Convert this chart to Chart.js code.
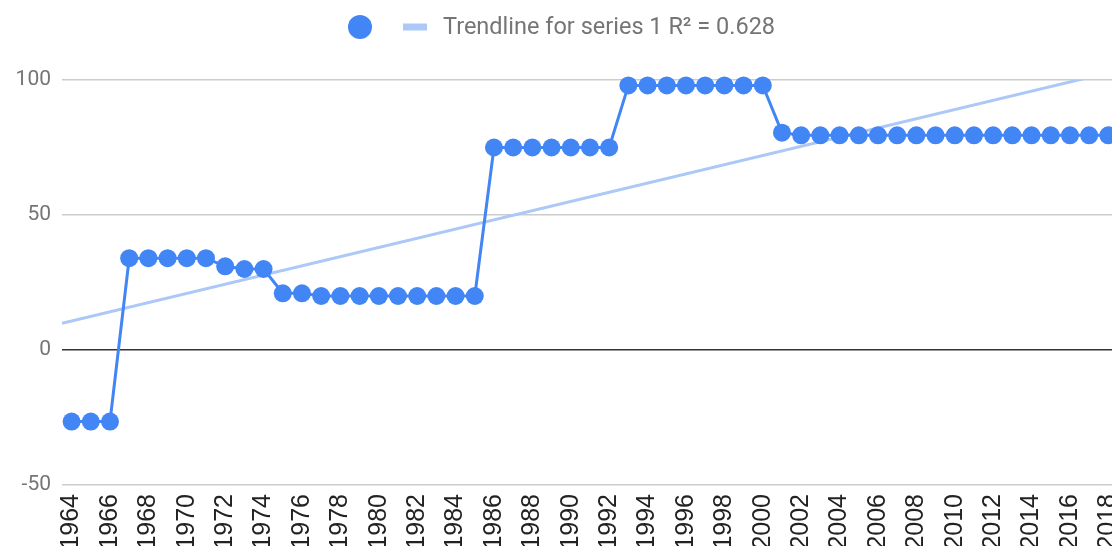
<!DOCTYPE html>
<html>
<head>
<meta charset="utf-8">
<script src="https://cdn.jsdelivr.net/npm/chart.js@4"></script>
<style>
    html, body { margin: 0; padding: 0; background: #ffffff; overflow: hidden; }
    #wrap { width: 1112px; height: 546px; position: relative; }
    canvas { display: block; }
</style>
</head>
<body>
<div id="wrap"><canvas id="chart" width="1112" height="546"></canvas></div>
<script>
// --- dados ---
const anos = [
    1964, 1965, 1966, 1967, 1968, 1969, 1970, 1971, 1972, 1973,
    1974, 1975, 1976, 1977, 1978, 1979, 1980, 1981, 1982, 1983,
    1984, 1985, 1986, 1987, 1988, 1989, 1990, 1991, 1992, 1993,
    1994, 1995, 1996, 1997, 1998, 1999, 2000, 2001, 2002, 2003,
    2004, 2005, 2006, 2007, 2008, 2009, 2010, 2011, 2012, 2013,
    2014, 2015, 2016, 2017, 2018
];
const valores = [
    -26.5, -26.5, -26.5, 34, 34, 34, 34, 34, 31, 30,
    30, 21, 21, 20, 20, 20, 20, 20, 20, 20,
    20, 20, 75, 75, 75, 75, 75, 75, 75, 98,
    98, 98, 98, 98, 98, 98, 98, 80.5, 79.5, 79.5,
    79.5, 79.5, 79.5, 79.5, 79.5, 79.5, 79.5, 79.5, 79.5, 79.5,
    79.5, 79.5, 79.5, 79.5, 79.5
];
// linha de tendência (extremos)
const tendenciaX = [1963.5, 2018.19];
const tendenciaY = [9.9, 103.0];

const anosTicks = [
    1964, 1966, 1968, 1970, 1972, 1974, 1976, 1978, 1980, 1982,
    1984, 1986, 1988, 1990, 1992, 1994, 1996, 1998, 2000, 2002,
    2004, 2006, 2008, 2010, 2012, 2014, 2016, 2018
];
const valoresTicksY = [-50, 0, 50, 100];

const legendaTendencia = "Trendline for series 1 R² = 0.628";

const AZUL = "#4285F4";
const AZUL_CLARO = "#abc8f8";

// legenda no estilo do Google Charts
const legendaPlugin = {
    id: "legendaTopo",
    afterDraw(chart) {
        const ctx = chart.ctx;
        ctx.save();
        ctx.fillStyle = AZUL;
        ctx.beginPath();
        ctx.arc(360, 27, 12, 0, Math.PI * 2);
        ctx.fill();

        ctx.strokeStyle = AZUL_CLARO;
        ctx.lineWidth = 7;
        ctx.beginPath();
        ctx.moveTo(403, 27);
        ctx.lineTo(427, 27);
        ctx.stroke();

        ctx.font = "23.5px Roboto";
        ctx.fillStyle = "#757575";
        ctx.textBaseline = "middle";
        ctx.textAlign = "left";
        ctx.fillText(chart.data.datasets[1].label, 443, 28);
        ctx.restore();
    }
};

const ctx = document.getElementById("chart").getContext("2d");
const grafico = new Chart(ctx, {
    type: "line",
    data: {
        datasets: [
            {
                label: "",
                data: anos.map((a, i) => ({ x: a, y: valores[i] })),
                borderColor: AZUL,
                backgroundColor: AZUL,
                borderWidth: 3,
                pointRadius: 9,
                pointBorderWidth: 0,
                pointBackgroundColor: AZUL,
                tension: 0,
                clip: false
            },
            {
                label: legendaTendencia,
                data: tendenciaX.map((a, i) => ({ x: a, y: tendenciaY[i] })),
                borderColor: AZUL_CLARO,
                borderWidth: 3,
                pointRadius: 0,
                tension: 0
            }
        ]
    },
    options: {
        responsive: false,
        animation: false,
        devicePixelRatio: 1,
        layout: { autoPadding: false, padding: { top: 80, left: 0, right: 0, bottom: 0 } },
        plugins: {
            legend: { display: false },
            tooltip: { enabled: false }
        },
        scales: {
            x: {
                type: "linear",
                min: 1963.5,
                max: 2018.19,
                afterBuildTicks: (scale) => {
                    scale.ticks = anosTicks.map(v => ({ value: v }));
                },
                afterFit: (scale) => {
                    scale.height = 61;
                    scale.paddingLeft = 0;
                    scale.paddingRight = 0;
                },
                grid: { display: false, drawTicks: false },
                border: { display: false },
                ticks: {
                    autoSkip: false,
                    minRotation: 90,
                    maxRotation: 90,
                    padding: 9,
                    color: "#222222",
                    font: { family: "'Liberation Sans', Arial", size: 25 },
                    callback: (v) => String(v)
                }
            },
            y: {
                type: "linear",
                min: -50,
                max: 100,
                afterBuildTicks: (scale) => {
                    scale.ticks = valoresTicksY.map(v => ({ value: v }));
                },
                afterFit: (scale) => {
                    scale.width = 62;
                },
                grid: {
                    drawTicks: false,
                    lineWidth: 1.5,
                    color: (c) => (c.tick && c.tick.value === 0 ? "#333333" : "#cccccc")
                },
                border: { display: false },
                ticks: {
                    padding: 11,
                    color: "#757575",
                    font: { family: "Roboto", size: 21 }
                }
            }
        }
    },
    plugins: [legendaPlugin]
});
</script>
</body>
</html>
